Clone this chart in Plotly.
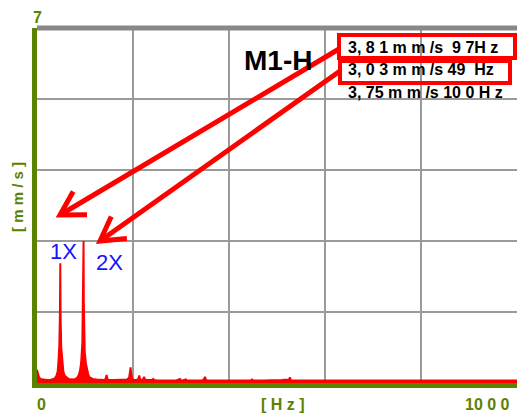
import math
import plotly.graph_objects as go

# ---- data ----
freq_hz = [0, 2, 4, 7, 12, 20, 28, 34, 37, 40,
           43, 44.5, 46.5, 47.8, 48.5, 49.2, 50.5, 52.5, 55, 58,
           62, 66, 74, 80, 84, 87, 89.5, 92, 94.5, 95.8,
           96.5, 97, 97.5, 98.2, 99.5, 102, 104.5, 107, 110, 116,
           124, 132, 140, 143, 145, 147, 150, 160, 170, 180,
           188, 192, 194, 195, 196, 198, 202, 208, 211, 213,
           215, 218, 221, 223, 225, 228, 235, 240, 242, 244,
           250, 262, 275, 290, 298, 300, 303, 310, 312, 315,
           330, 345, 348, 350, 352, 356, 370, 390, 410, 430,
           446, 448, 450, 470, 490, 496, 500, 510, 525, 527,
           529, 545, 565, 590, 620, 650, 680, 710, 740, 770,
           800, 830, 860, 890, 920, 950, 980, 1000]
amp_mms = [0.26, 0.18, 0.12, 0.08, 0.07, 0.06, 0.06, 0.07, 0.09, 0.13,
           0.22, 0.40, 0.75, 1.40, 2.36, 1.30, 0.70, 0.40, 0.22, 0.14,
           0.10, 0.08, 0.07, 0.08, 0.11, 0.16, 0.24, 0.40, 0.80, 1.60,
           1.65, 2.80, 1.60, 1.00, 0.60, 0.38, 0.24, 0.16, 0.11, 0.08,
           0.07, 0.06, 0.06, 0.08, 0.16, 0.07, 0.06, 0.06, 0.06, 0.06,
           0.07, 0.11, 0.26, 0.31, 0.20, 0.09, 0.06, 0.06, 0.08, 0.15,
           0.07, 0.06, 0.07, 0.12, 0.07, 0.06, 0.06, 0.06, 0.08, 0.06,
           0.05, 0.05, 0.05, 0.05, 0.08, 0.05, 0.05, 0.07, 0.05, 0.05,
           0.05, 0.05, 0.08, 0.12, 0.06, 0.05, 0.05, 0.05, 0.05, 0.05,
           0.05, 0.07, 0.05, 0.05, 0.05, 0.06, 0.05, 0.06, 0.07, 0.11,
           0.05, 0.05, 0.05, 0.05, 0.05, 0.05, 0.05, 0.05, 0.05, 0.05,
           0.05, 0.05, 0.05, 0.05, 0.05, 0.05, 0.05, 0.05]
assert len(freq_hz) == len(amp_mms)

x_range = [0, 1000]
y_range = [0, 7]
x_dtick = 200
y_dtick = 1.4

title_text = "M1-H"
readouts = ["3, 8 1 m m /s  9 7H z", "3, 0 3 m m /s 49  Hz", "3, 75 m m /s 10 0 H z"]
harmonic_labels = ["1X", "2X"]
y_top_label = "7"
x_left_label = "0"
x_right_label = "10 0 0"
x_unit = "[ H z ]"
y_unit = "[ m m / s ]"

# ---- layout geometry (pixels) ----
W, H = 517, 413
L, R, T, B = 37, 0, 28, 30
PX0, PX1 = L, W - R
PY0, PY1 = T, H - B

def px(x):
    return (x - PX0) / (PX1 - PX0)

def py(y):
    return (PY1 - y) / (PY1 - PY0)

GREEN = "#5b8200"
GRID = "#9a9a9a"
RED = "#ff0000"
BLUE = "#1414ff"
FONT = "Liberation Sans, Arial, sans-serif"

fig = go.Figure()
fig.add_trace(go.Scatter(
    x=freq_hz, y=amp_mms, mode="lines",
    line=dict(color=RED, width=2),
    fill="tozeroy", fillcolor=RED,
    hoverinfo="skip", showlegend=False,
))

annotations = []
def txt(text, x, y, size, color="black", bold=True, xanchor="center", angle=0):
    annotations.append(dict(
        text=("<b>%s</b>" % text) if bold else text,
        x=px(x), y=py(y), xref="paper", yref="paper",
        xanchor=xanchor, yanchor="middle", showarrow=False,
        textangle=angle,
        font=dict(family=FONT, size=size, color=color),
    ))

txt(title_text, 278, 61, 28)
for t, yy in zip(readouts, [47, 70, 93]):
    txt(t, 346, yy, 16, xanchor="left")
txt(harmonic_labels[0], 63.5, 251, 22, color=BLUE, bold=False)
txt(harmonic_labels[1], 109, 262, 22, color=BLUE, bold=False)
txt(y_top_label, 37, 17, 16, color=GREEN)
txt(x_left_label, 41, 404, 16, color=GREEN)
txt(x_unit, 283, 405, 16, color=GREEN)
txt(x_right_label, 512, 405, 16, color=GREEN, xanchor="right")
txt(y_unit, 17, 197, 15, color=GREEN, angle=-90)

shapes = []
# top border
shapes.append(dict(type="line", xref="paper", yref="paper", x0=0, x1=1, y0=1, y1=1,
                   line=dict(color="#888888", width=5)))
# readout boxes
for (x0, y0, x1, y1) in [(339, 35, 515, 58), (340, 61, 510, 83)]:
    shapes.append(dict(type="rect", xref="paper", yref="paper",
                       x0=px(x0), x1=px(x1), y0=py(y0), y1=py(y1),
                       line=dict(color=RED, width=4)))
# arrows (tail -> tip), pixel positions
for (tx, ty, hx, hy) in [(339, 49, 60, 215), (340, 71, 100, 241)]:
    shapes.append(dict(type="line", xref="paper", yref="paper",
                       x0=px(tx), y0=py(ty), x1=px(hx), y1=py(hy),
                       line=dict(color=RED, width=5)))
    ang = math.atan2(ty - hy, tx - hx)
    wl = 27
    wa = (hx + wl * math.cos(ang - math.radians(30)), hy + wl * math.sin(ang - math.radians(30)))
    wb = (hx + wl * math.cos(ang + math.radians(30)), hy + wl * math.sin(ang + math.radians(30)))
    path = "M %f %f L %f %f L %f %f" % (px(wa[0]), py(wa[1]), px(hx), py(hy), px(wb[0]), py(wb[1]))
    shapes.append(dict(type="path", xref="paper", yref="paper", path=path,
                       line=dict(color=RED, width=5)))

fig.update_layout(
    width=W, height=H,
    margin=dict(l=L, r=R, t=T, b=B, pad=0),
    paper_bgcolor="white", plot_bgcolor="white",
    annotations=annotations, shapes=shapes,
    font=dict(family=FONT),
    xaxis=dict(range=x_range, dtick=x_dtick, tick0=0, showgrid=True, gridcolor=GRID, gridwidth=2,
               zeroline=False, showticklabels=False, ticks="",
               showline=True, linecolor=GREEN, linewidth=5, fixedrange=True),
    yaxis=dict(range=y_range, dtick=y_dtick, tick0=0, showgrid=True, gridcolor=GRID, gridwidth=2,
               zeroline=False, showticklabels=False, ticks="",
               showline=True, linecolor=GREEN, linewidth=5, fixedrange=True),
)

fig.write_html("out.html", config={"displayModeBar": False},
               post_script="document.body.style.margin='0';document.body.style.overflow='hidden';")
